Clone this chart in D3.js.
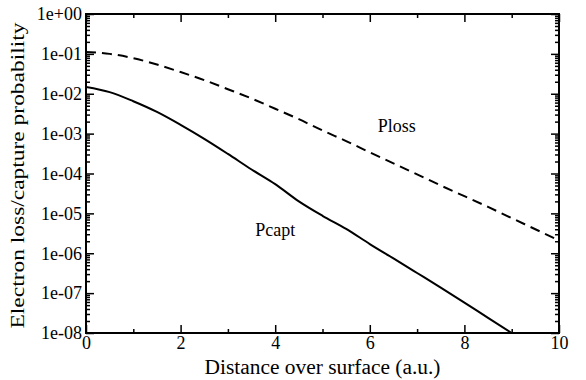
<!DOCTYPE html>
<html>
<head>
<meta charset="utf-8">
<script src="https://cdn.jsdelivr.net/npm/d3@7"></script>
<style>
  body { margin: 0; background: #fff; }
</style>
</head>
<body>
<div class="chart"></div>
<script>
// distance over surface (a.u.)
var distance = [0, 0.5, 1, 1.5, 2, 2.5, 3, 3.5, 4, 4.5, 5, 5.5, 6, 6.5, 7, 7.5, 8, 8.5, 9, 9.5, 10];
// electron loss probability (dashed)
var ploss = [1.12e-1, 1.0e-1, 7.8e-2, 5.4e-2, 3.5e-2, 2.2e-2, 1.3e-2, 7.6e-3, 4.2e-3, 2.3e-3, 1.2e-3,
             6.5e-4, 3.4e-4, 1.8e-4, 9.5e-5, 5.0e-5, 2.7e-5, 1.45e-5, 7.6e-6, 4.0e-6, 2.1e-6];
// electron capture probability (solid)
var pcapt = [1.48e-2, 1.1e-2, 6.5e-3, 3.5e-3, 1.66e-3, 7.4e-4, 3.1e-4, 1.26e-4, 5.4e-5, 2.0e-5, 8.7e-6,
             4.1e-6, 1.7e-6, 7.4e-7, 3.2e-7, 1.38e-7, 5.8e-8, 2.4e-8, 1.0e-8, 4.2e-9, 1.8e-9];

var xTicks = [0, 2, 4, 6, 8, 10];
var xMinor = [1, 3, 5, 7, 9];
var yTicks = [1, 1e-1, 1e-2, 1e-3, 1e-4, 1e-5, 1e-6, 1e-7, 1e-8];

var FONT = "'Liberation Serif', 'DejaVu Serif', serif";

var margin = {top: 14, right: 27, bottom: 47, left: 86},
    width = 586 - margin.left - margin.right,
    height = 380 - margin.top - margin.bottom;

var x = d3.scaleLinear().domain([0, 10]).range([0, width]);
var y = d3.scaleLog().domain([1e-8, 1]).range([height, 0]);

var yMinor = y.ticks().filter(function(d) { return yTicks.indexOf(d) < 0; });

function expFmt(d) {
  var e = Math.round(Math.log10(d));
  var a = Math.abs(e);
  return "1e" + (e < 0 ? "-" : "+") + (a < 10 ? "0" : "") + a;
}

var svg = d3.select(".chart").append("svg")
    .attr("width", 586)
    .attr("height", 380)
    .style("font-family", FONT)
  .append("g")
    .attr("transform", "translate(" + margin.left + "," + margin.top + ")");

svg.append("clipPath").attr("id", "clip")
  .append("rect").attr("width", width).attr("height", height);

// curves
var line = d3.line()
    .x(function(d) { return x(d[0]); })
    .y(function(d) { return y(d[1]); })
    .curve(d3.curveMonotoneX);

svg.append("path")
    .datum(distance.map(function(d, i) { return [d, ploss[i]]; }))
    .attr("clip-path", "url(#clip)")
    .attr("fill", "none")
    .attr("stroke", "#000")
    .attr("stroke-width", 2)
    .attr("stroke-dasharray", "10,6")
    .attr("d", line);

svg.append("path")
    .datum(distance.map(function(d, i) { return [d, pcapt[i]]; }))
    .attr("clip-path", "url(#clip)")
    .attr("fill", "none")
    .attr("stroke", "#000")
    .attr("stroke-width", 2)
    .attr("d", line);

// axes: ticks point inward on all four sides
function styleAxis(g) {
  g.attr("font-family", null).attr("font-size", null);
  g.select(".domain").remove();
  g.selectAll("line").attr("stroke", "#000").attr("stroke-width", 1.5);
  g.selectAll("text")
    .style("font-family", FONT)
    .style("font-size", "18px")
    .attr("fill", "#000");
}

svg.append("g").attr("transform", "translate(0," + height + ")")
    .call(d3.axisBottom(x).tickValues(xTicks).tickSize(-8).tickPadding(3).tickFormat(d3.format("d")))
    .call(styleAxis);
svg.append("g").attr("transform", "translate(0," + height + ")")
    .call(d3.axisBottom(x).tickValues(xMinor).tickSize(-4).tickFormat(""))
    .call(styleAxis);
svg.append("g")
    .call(d3.axisTop(x).tickValues(xTicks).tickSize(-8).tickFormat(""))
    .call(styleAxis);
svg.append("g")
    .call(d3.axisTop(x).tickValues(xMinor).tickSize(-4).tickFormat(""))
    .call(styleAxis);

svg.append("g")
    .call(d3.axisLeft(y).tickValues(yTicks).tickSize(-8).tickPadding(4).tickFormat(expFmt))
    .call(styleAxis);
svg.append("g")
    .call(d3.axisLeft(y).tickValues(yMinor).tickSize(-4).tickFormat(""))
    .call(styleAxis);
svg.append("g").attr("transform", "translate(" + width + ",0)")
    .call(d3.axisRight(y).tickValues(yTicks).tickSize(-8).tickFormat(""))
    .call(styleAxis);
svg.append("g").attr("transform", "translate(" + width + ",0)")
    .call(d3.axisRight(y).tickValues(yMinor).tickSize(-4).tickFormat(""))
    .call(styleAxis);

// frame
svg.append("rect")
    .attr("width", width)
    .attr("height", height)
    .attr("fill", "none")
    .attr("stroke", "#000")
    .attr("stroke-width", 2);

// labels
function label(txt, px, py, size, rot, len) {
  var t = svg.append("text")
    .attr("transform", "translate(" + px + "," + py + ")" + (rot ? " rotate(" + rot + ")" : ""))
    .attr("text-anchor", "middle")
    .style("font-family", FONT)
    .style("font-size", size)
    .attr("fill", "#000")
    .text(txt);
  if (len) t.attr("textLength", len).attr("lengthAdjust", "spacingAndGlyphs");
  return t;
}

label("Ploss", x(6.57), y(Math.pow(10, -2.97)), "18px");
label("Pcapt", x(4.0), y(Math.pow(10, -5.57)), "18px");
label("Distance over surface (a.u.)", width / 2, height + 41, "20px", 0, 236);
label("Electron loss/capture probability", -62, height / 2 + 2, "19px", -90, 306);
</script>
</body>
</html>
